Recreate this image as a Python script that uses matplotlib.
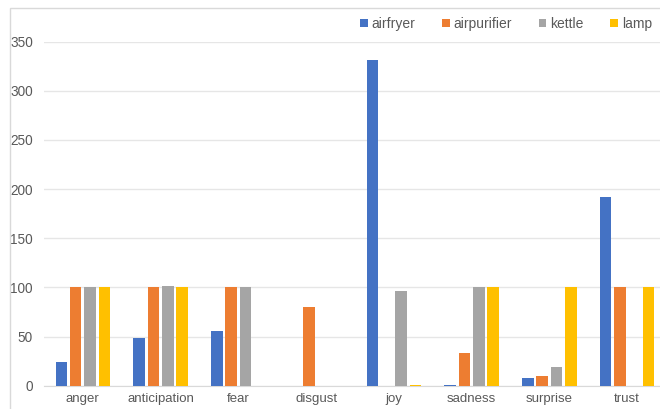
import matplotlib
matplotlib.use("Agg")
import matplotlib.pyplot as plt
import numpy as np
from matplotlib.patches import Patch, Rectangle

plt.rcParams['font.family'] = ['Liberation Sans', 'DejaVu Sans']

# emotion counts per product
emotions = ['anger', 'anticipation', 'fear', 'disgust', 'joy', 'sadness', 'surprise', 'trust']
airfryer = [24, 49, 56, 0, 331, 1, 8, 192]
airpurifier = [100, 100, 100, 80, 0, 33, 10, 100]
kettle = [100, 101, 100, 0, 96, 100, 19, 0]
lamp = [100, 100, 0, 0, 1, 100, 100, 100]

series = [('airfryer', airfryer, '#4472C4'),
          ('airpurifier', airpurifier, '#ED7D31'),
          ('kettle', kettle, '#A5A5A5'),
          ('lamp', lamp, '#FFC000')]

W, H = 660, 409
fig = plt.figure(figsize=(W / 100, H / 100), dpi=100)

# chart frame (left and top edges show)
fig.patches.append(Rectangle((10 / W, -0.1), 1.2, 1 - 8 / H + 0.1, transform=fig.transFigure,
                             fill=False, edgecolor='#d9d9d9', linewidth=1.0))

left, right = 44, 666
top, bottom = 41.7, 385.7
ax = fig.add_axes([left / W, 1 - bottom / H, (right - left) / W, (bottom - top) / H])

x = np.arange(len(emotions))
step = 0.184
width = 0.148
for i, (name, vals, color) in enumerate(series):
    ax.bar(x + (i - 1.5) * step, vals, width=width, color=color, label=name, zorder=3)

ax.set_xlim(-0.5, len(emotions) - 0.5)
ax.set_ylim(0, 350)
ax.set_yticks(np.arange(0, 351, 50))
ax.set_xticks(x)
ax.set_xticklabels(emotions)
ax.grid(axis='y', color='#e6e6e6', linewidth=1.0, zorder=0)
for s in ['top', 'right', 'left']:
    ax.spines[s].set_visible(False)
ax.spines['bottom'].set_color('#d9d9d9')
ax.tick_params(axis='both', length=0, labelsize=9.8, colors='#595959')
ax.tick_params(axis='y', pad=8)
ax.tick_params(axis='x', pad=5, labelsize=9.5)

handles = [Patch(facecolor=c, label=n) for n, _, c in series]
fig.legend(handles=handles, loc='center', bbox_to_anchor=(506 / W, 1 - 24 / H), ncol=4,
           frameon=False, fontsize=10, labelcolor='#595959', handlelength=0.55,
           handleheight=0.55, handletextpad=0.3, columnspacing=1.9)

fig.savefig('out.png', dpi=100, facecolor='white')
